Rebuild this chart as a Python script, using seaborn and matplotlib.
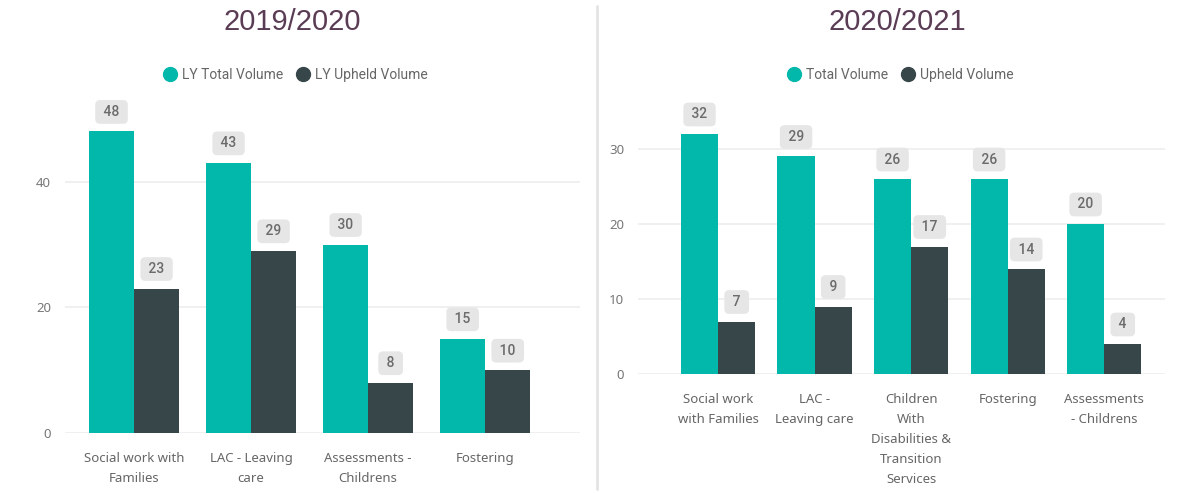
import pandas as pd
import matplotlib.pyplot as plt
import seaborn as sns
from matplotlib.lines import Line2D

# data
cats_1920 = ['Social work with\nFamilies', 'LAC - Leaving\ncare', 'Assessments -\nChildrens', 'Fostering']
total_1920 = [48, 43, 30, 15]
upheld_1920 = [23, 29, 8, 10]

cats_2021 = ['Social work\nwith Families', 'LAC -\nLeaving care',
             'Children\nWith\nDisabilities &\nTransition\nServices', 'Fostering',
             'Assessments\n- Childrens']
total_2021 = [32, 29, 26, 26, 20]
upheld_2021 = [7, 9, 17, 14, 4]

teal = '#01B8AA'
dark = '#374649'
W, H = 1177, 493

sns.set_theme(style='white')
plt.rcParams['font.family'] = ['Noto Sans', 'DejaVu Sans']

fig = plt.figure(figsize=(W / 100, H / 100), dpi=100)


def draw(ax, cats, total, upheld, names, yticks, ylim, xlim, title, cx, lab_pad):
    df = pd.DataFrame({
        'cat': cats * 2,
        'value': total + upheld,
        'series': [names[0]] * len(cats) + [names[1]] * len(cats),
    })
    sns.barplot(data=df, x='cat', y='value', hue='series', palette=[teal, dark],
                width=0.77, saturation=1, linewidth=0, ax=ax, legend=False)
    ax.set_ylim(*ylim)
    ax.set_xlim(*xlim)
    ax.set_yticks(yticks)
    ax.set_xlabel('')
    ax.set_ylabel('')
    ax.yaxis.grid(True, color='#eeeeee', lw=1.2)
    ax.set_axisbelow(True)
    for s in ax.spines.values():
        s.set_visible(False)
    ax.tick_params(axis='y', length=0, labelsize=9.5, labelcolor='#777777', pad=10)
    ax.tick_params(axis='x', length=0, labelsize=9.5, labelcolor='#666666', pad=lab_pad)
    for lbl in ax.get_xticklabels():
        lbl.set_linespacing(1.7)
    for c in ax.containers:
        ax.bar_label(c, fmt=' {:.0f} ', padding=9, fontsize=10, color='#6b6b6b',
                     family='Roboto', fontweight='medium',
                     bbox=dict(boxstyle='round,pad=0.35,rounding_size=0.35',
                               fc='#e6e6e6', ec='none'))
    fig.text(cx / W, 1 - 22 / H, title, ha='center', va='center', fontsize=21,
             color='#5a3c55', family='Liberation Sans')
    handles = [Line2D([], [], marker='o', ls='none', ms=10, color=col) for col in (teal, dark)]
    fig.legend(handles, names, loc='center', bbox_to_anchor=(cx / W, 1 - 75 / H), ncol=2,
               frameon=False, handletextpad=-0.1, columnspacing=0.4,
               labelcolor='#666666', prop={'family': 'Roboto', 'size': 10})


ax1 = fig.add_axes([65 / W, (H - 433) / H, 515 / W, 338 / H])
draw(ax1, cats_1920, total_1920, upheld_1920, ['LY Total Volume', 'LY Upheld Volume'],
     [0, 20, 40], (0, 53.8), (-0.59, 3.81), '2019/2020', 292, 14)

ax2 = fig.add_axes([638 / W, (H - 374) / H, 527 / W, 279 / H])
draw(ax2, cats_2021, total_2021, upheld_2021, ['Total Volume', 'Upheld Volume'],
     [0, 10, 20, 30], (0, 37.2), (-0.83, 4.63), '2020/2021', 897, 14)

fig.add_artist(Line2D([597 / W, 597 / W], [4 / H, 1 - 6 / H], transform=fig.transFigure,
                      color='#e3e3e3', lw=2))

plt.savefig('out.png', dpi=100)
